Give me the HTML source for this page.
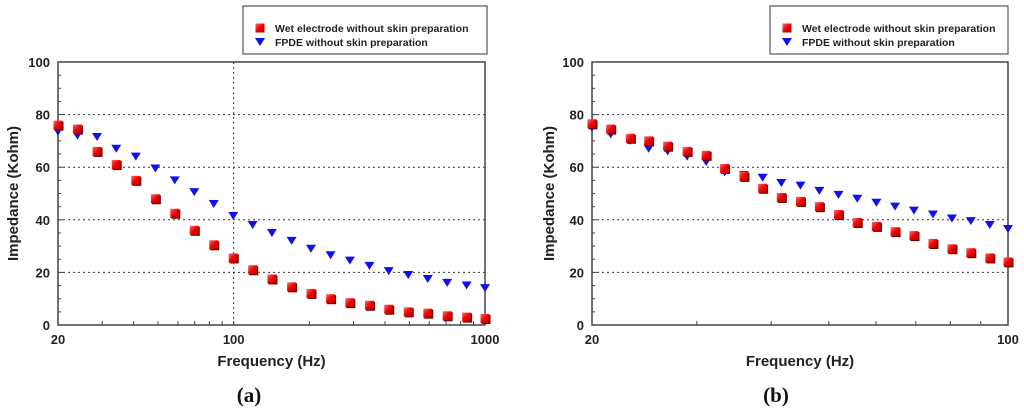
<!DOCTYPE html>
<html><head><meta charset="utf-8"><style>
body{margin:0;background:#fff;}
svg{display:block;font-family:"Liberation Sans",Arial,sans-serif;}
</style></head><body>
<svg id="s" width="1024" height="415" viewBox="0 0 1024 415" xmlns="http://www.w3.org/2000/svg">
<defs>
<linearGradient id="rg" x1="0" y1="0" x2="1" y2="1"><stop offset="0" stop-color="#ff6a6a"/><stop offset="0.5" stop-color="#ee0000"/><stop offset="1" stop-color="#b00000"/></linearGradient>
</defs>
</svg>
<script>
const freqA=[20,23.9,28.6,34.1,40.8,48.8,58.3,69.7,83.3,99.6,119,142,170,203,243,290,347,414,495,592,707,845,1000];
const wetA=[76,74.5,66,61,55,48,42.5,36,30.5,25.5,21,17.5,14.5,12,10,8.5,7.5,6,5,4.5,3.5,3,2.5];
const fpdeA=[73.5,72,71.5,67,64,59.5,55,50.5,46,41.5,38,35,32,29,26.5,24.5,22.5,20.5,19,17.5,16,15,14];
const freqB=[20,21.5,23.2,24.9,26.8,28.9,31.1,33.4,36,38.7,41.6,44.8,48.2,51.9,55.8,60.1,64.6,69.5,74.8,80.5,86.6,93.2,100];
const wetB=[76.5,74.5,71,70,68,66,64.5,59.5,56.5,52,48.5,47,45,42,39,37.5,35.5,34,31,29,27.5,25.5,24];
const fpdeB=[75,72.5,70,67,66,64,62,58,57,56,54,53,51,49.5,48,46.5,45,43.5,42,40.5,39.5,38,36.5];
const yTicks=[0,20,40,60,80,100];
const xTicksA=[20,100,1000];
const xTicksB=[20,100];
const legendLabels=["Wet electrode without skin preparation","FPDE without skin preparation"];

const svg=document.getElementById('s');
const NS='http://www.w3.org/2000/svg';
function mk(tag,attrs,parent){const e=document.createElementNS(NS,tag);for(const k in attrs)e.setAttribute(k,attrs[k]);(parent||svg).appendChild(e);return e;}

function chart(cfg){
  const g=mk('g',{});
  
  
  const {x0,x1,y0,y1,fmin,fmax}=cfg;
  const X=f=>x0+(Math.log(f/fmin)/Math.log(fmax/fmin))*(x1-x0);
  const Y=v=>y1-(v/100)*(y1-y0);
  // grid
  yTicks.forEach(t=>{ if(t>0&&t<100){const l=mk('line',{x1:x0,x2:x1,y1:Y(t),y2:Y(t),stroke:'#333','stroke-width':1,'stroke-dasharray':'2,3'},g);
    
    }});
  cfg.vgrid.forEach(f=>{const l=mk('line',{x1:X(f),x2:X(f),y1:y0,y2:y1,stroke:'#333','stroke-width':1,'stroke-dasharray':'2,3'},g);
    
    });
  // frame
  const fr=mk('rect',{x:x0,y:y0,width:x1-x0,height:y1-y0,fill:'none',stroke:'#444','stroke-width':1.5},g);
  
  
  // y ticks
  for(let v=0;v<=100;v+=5){const len=v%20===0?5:3;mk('line',{x1:x0,x2:x0+len,y1:Y(v),y2:Y(v),stroke:'#444'},g);}
  yTicks.forEach(t=>{const tx=mk('text',{x:x0-8,y:Y(t)+5,'text-anchor':'end','font-size':13,'font-weight':'bold',fill:'#222'},g);tx.textContent=t;
    
    });
  // x minor ticks
  for(let d=10;d<=fmax;d*=10){for(let m=1;m<10;m++){const f=d*m;if(f>fmin&&f<fmax){mk('line',{x1:X(f),x2:X(f),y1:y1,y2:y1-4,stroke:'#444'},g);}}}
  cfg.xticks.forEach(t=>{const tx=mk('text',{x:X(t),y:y1+19,'text-anchor':'middle','font-size':13,'font-weight':'bold',fill:'#222'},g);tx.textContent=t;
    
    });
  const xt=mk('text',{x:(x0+x1)/2,y:y1+41,'text-anchor':'middle','font-size':15,'font-weight':'bold',fill:'#222'},g);xt.textContent='Frequency (Hz)';
  
  
  const yt=mk('text',{x:0,y:0,transform:`translate(${cfg.ytx},${(y0+y1)/2}) rotate(-90)`,'text-anchor':'middle','font-size':15,'font-weight':'bold',fill:'#222'},g);yt.textContent='Impedance (Kohm)';
  
  
  // series
  cfg.fpde.forEach((v,i)=>{const cx=X(cfg.freq[i]),cy=Y(v);
    const p=mk('polygon',{points:`${cx-5},${cy-4} ${cx+5},${cy-4} ${cx},${cy+4}`,fill:'#1010ee'},g);
    
    });
  cfg.wet.forEach((v,i)=>{const cx=X(cfg.freq[i]),cy=Y(v);
    mk('rect',{x:cx-3.5,y:cy-3.5,width:9,height:9,fill:'#600'},g);
    const r=mk('rect',{x:cx-4.5,y:cy-4.5,width:9,height:9,fill:'url(#rg)'},g);
    
    });
  // legend
  const lg=mk('g',{},g);
  
  
  mk('rect',{x:cfg.lx,y:6,width:cfg.lw,height:48,fill:'#fff',stroke:'#555','stroke-width':1.2},lg);
  const mx=cfg.lx+17;
  mk('rect',{x:mx-4.5,y:23.5,width:9,height:9,fill:'url(#rg)'},lg);
  mk('polygon',{points:`${mx-5},${38} ${mx+5},${38} ${mx},${46}`,fill:'#1010ee'},lg);
  legendLabels.forEach((s,i)=>{const t=mk('text',{x:cfg.lx+32,y:32+i*14,'font-size':10.5,'font-weight':'bold',fill:'#222'},lg);t.textContent=s;
    
    });
  const cap=mk('text',{x:cfg.capx,y:402,'text-anchor':'middle','font-size':21,'font-weight':'bold','font-family':'"Liberation Serif",serif',fill:'#111'},g);cap.textContent=cfg.cap;
  
  
}
chart({name:'chart-a',x0:58,x1:485,y0:62,y1:325,fmin:20,fmax:1000,freq:freqA,wet:wetA,fpde:fpdeA,xticks:xTicksA,vgrid:[100],ytx:18,lx:243,lw:244,capx:249,cap:'(a)'});
chart({name:'chart-b',x0:592,x1:1008,y0:62,y1:325,fmin:20,fmax:100,freq:freqB,wet:wetB,fpde:fpdeB,xticks:xTicksB,vgrid:[],ytx:554,lx:770,lw:238,capx:776,cap:'(b)'});
</script>
</body></html>
